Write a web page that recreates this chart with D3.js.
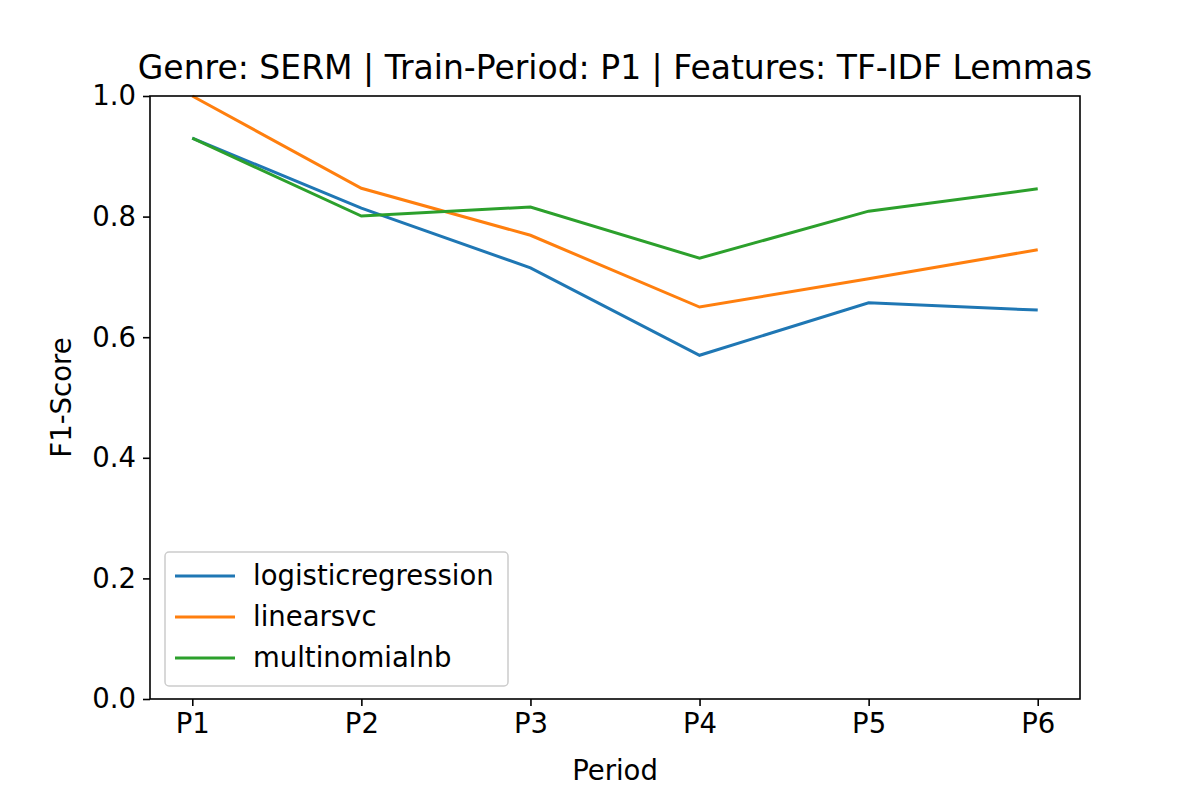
<!DOCTYPE html>
<html><head><meta charset="utf-8">
<script src="https://cdn.jsdelivr.net/npm/d3@7"></script>
<style>body{margin:0;background:#fff}text{font-family:"DejaVu Sans",sans-serif}</style>
</head><body><div id="chart"></div>
<script>
const periods = ["P1","P2","P3","P4","P5","P6"];
const logisticregression = [0.930, 0.814, 0.715, 0.570, 0.657, 0.645];
const linearsvc = [1.0, 0.847, 0.769, 0.650, 0.697, 0.745];
const multinomialnb = [0.930, 0.801, 0.816, 0.731, 0.809, 0.846];
const yTicks = [0, 0.2, 0.4, 0.6, 0.8, 1.0];

const series = [
  {name: "logisticregression", values: logisticregression, color: "#1f77b4"},
  {name: "linearsvc", values: linearsvc, color: "#ff7f0e"},
  {name: "multinomialnb", values: multinomialnb, color: "#2ca02c"}
];

const W = 1200, H = 800, L = 150, R = 1080, T = 96, B = 699;
const FS = 27.5;
const svg = d3.select("#chart").append("svg").attr("width", W).attr("height", H);

const x = d3.scalePoint().domain(periods).range([L, R]).padding(0.25);
const y = d3.scaleLinear().domain([0, 1]).range([B, T]);

const xAxis = svg.append("g").attr("transform", `translate(0,${B})`)
  .call(d3.axisBottom(x).tickSize(7).tickPadding(7));
const yAxis = svg.append("g").attr("transform", `translate(${L},0)`)
  .call(d3.axisLeft(y).tickValues(yTicks).tickFormat(d3.format(".1f")).tickSize(7).tickPadding(7));
[xAxis, yAxis].forEach(a => {
  a.select(".domain").remove();
  a.selectAll("text").attr("font-size", FS).attr("fill", "#000").style("font-family", "DejaVu Sans");
  a.selectAll("line").attr("stroke", "#000").attr("stroke-width", 1.6);
});

const line = d3.line().x((d, i) => x(periods[i])).y(d => y(d));
series.forEach(s => {
  svg.append("path").datum(s.values).attr("d", line)
    .attr("fill", "none").attr("stroke", s.color).attr("stroke-width", 3);
});

svg.append("rect").attr("x", L).attr("y", T).attr("width", R - L).attr("height", B - T)
  .attr("fill", "none").attr("stroke", "#000").attr("stroke-width", 1.6);

svg.append("text").attr("x", (L + R) / 2).attr("y", 79).attr("text-anchor", "middle")
  .attr("font-size", 33).text("Genre: SERM | Train-Period: P1 | Features: TF-IDF Lemmas");
svg.append("text").attr("x", (L + R) / 2).attr("y", 780).attr("text-anchor", "middle")
  .attr("font-size", FS).text("Period");
svg.append("text").attr("transform", `translate(71,${(T + B) / 2}) rotate(-90)`)
  .attr("text-anchor", "middle").attr("font-size", FS).text("F1-Score");

const lg = svg.append("g");
lg.append("rect").attr("x", 165).attr("y", 552).attr("width", 343).attr("height", 134)
  .attr("rx", 4).attr("fill", "#fff").attr("fill-opacity", 0.8).attr("stroke", "#ccc").attr("stroke-width", 1.5);
series.forEach((s, i) => {
  const yy = 576 + i * 41;
  lg.append("line").attr("x1", 175).attr("x2", 235).attr("y1", yy).attr("y2", yy)
    .attr("stroke", s.color).attr("stroke-width", 3);
  lg.append("text").attr("x", 253).attr("y", yy + 9).attr("font-size", FS).text(s.name);
});
</script></body></html>
